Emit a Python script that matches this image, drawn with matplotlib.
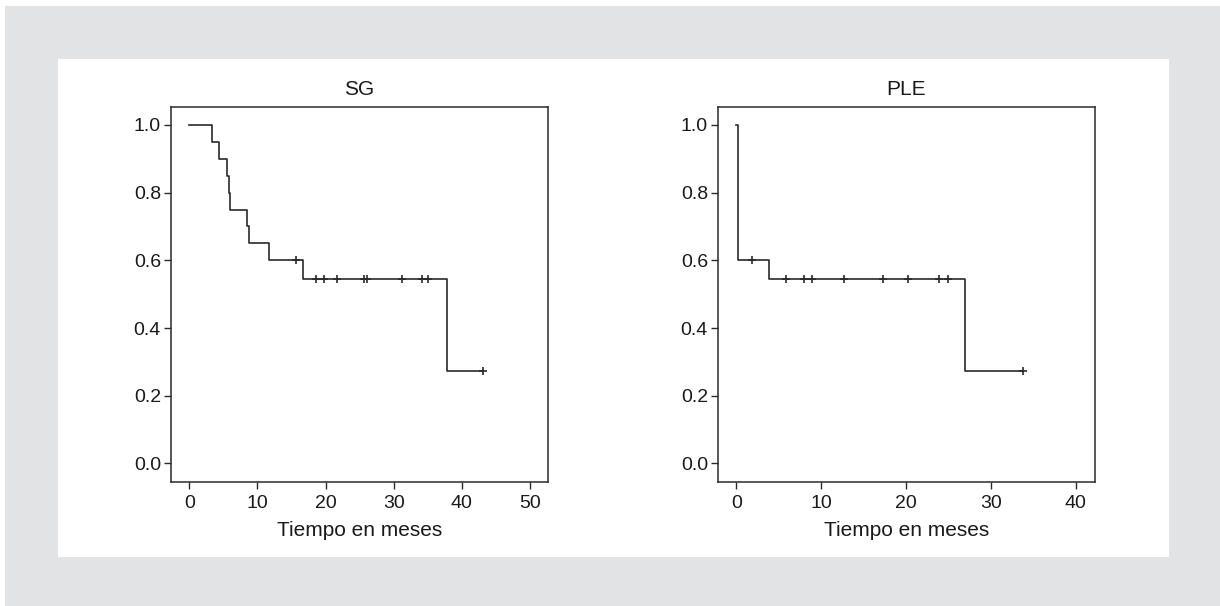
import numpy as np
import matplotlib
matplotlib.use("Agg")
import matplotlib.pyplot as plt
from matplotlib.patches import Rectangle

plt.rcParams['font.family'] = ['Liberation Sans', 'DejaVu Sans']

# Kaplan-Meier steps
sg_times = [0, 3.3, 4.3, 5.6, 5.8, 6.0, 8.4, 8.7, 11.7, 16.65, 37.8, 43.1]
sg_surv = [1.0, 0.95, 0.90, 0.85, 0.80, 0.75, 0.70, 0.65, 0.60, 0.5455, 0.2727, 0.2727]
sg_censor = [15.7, 18.6, 19.7, 21.7, 25.6, 26.1, 31.2, 34.2, 35.1, 43.1]

ple_times = [0, 0.17, 3.85, 26.95, 33.75]
ple_surv = [1.0, 0.6, 0.5455, 0.2727, 0.2727]
ple_censor = [1.8, 5.86, 7.98, 8.92, 12.66, 17.29, 20.23, 23.89, 24.91, 33.75]

titles = ["SG", "PLE"]
xticks_list = [[0, 10, 20, 30, 40, 50], [0, 10, 20, 30, 40]]
yticks = [0.0, 0.2, 0.4, 0.6, 0.8, 1.0]
xlabel = "Tiempo en meses"

W, H = 1220, 606
fig = plt.figure(figsize=(W / 100, H / 100), dpi=100, facecolor="white")

# gray frame and white panel
fig.patches.append(Rectangle((5 / W, 0), 1, 1 - 6 / H, transform=fig.transFigure,
                             facecolor="#e2e3e5", edgecolor="none", zorder=-2))
fig.patches.append(Rectangle((58 / W, (H - 557) / H), (1169 - 58) / W, (557 - 59) / H,
                             transform=fig.transFigure, facecolor="white",
                             edgecolor="none", zorder=-1))

ink = "#2a2a2a"
axes_px = [(170.7, 548.3), (717.7, 1095.0)]
xlims = [(-2.73, 52.69), (-2.19, 42.27)]
curves = [(sg_times, sg_surv, sg_censor), (ple_times, ple_surv, ple_censor)]

for i in range(2):
    x0, x1 = axes_px[i]
    ax = fig.add_axes([x0 / W, (H - 481.7) / H, (x1 - x0) / W, (481.7 - 107.3) / H])
    t, s, c = curves[i]
    ax.step(t, s, where="post", color=ink, lw=1.2)
    cy = [s[np.searchsorted(t, v, side="right") - 1] for v in c]
    ax.plot(c, cy, linestyle="none", marker="+", markersize=5.5, mew=1.2, color=ink)
    ax.set_xlim(*xlims[i])
    ax.set_ylim(-0.054, 1.052)
    ax.set_xticks(xticks_list[i])
    ax.set_yticks(yticks)
    ax.set_yticklabels(["%.1f" % v for v in yticks])
    ax.tick_params(length=5, width=1.0, color=ink, labelsize=14,
                   labelcolor="#1a1a1a")
    ax.tick_params(axis="y", pad=2)
    ax.tick_params(axis="x", pad=4.5)
    for sp in ax.spines.values():
        sp.set_linewidth(1.1)
        sp.set_color(ink)
    ax.set_title(titles[i], fontsize=15, pad=8.5, color="#1a1a1a")
    ax.set_xlabel(xlabel, fontsize=15, color="#1a1a1a", labelpad=6.5)

fig.savefig("out.png", dpi=100, facecolor="white")
